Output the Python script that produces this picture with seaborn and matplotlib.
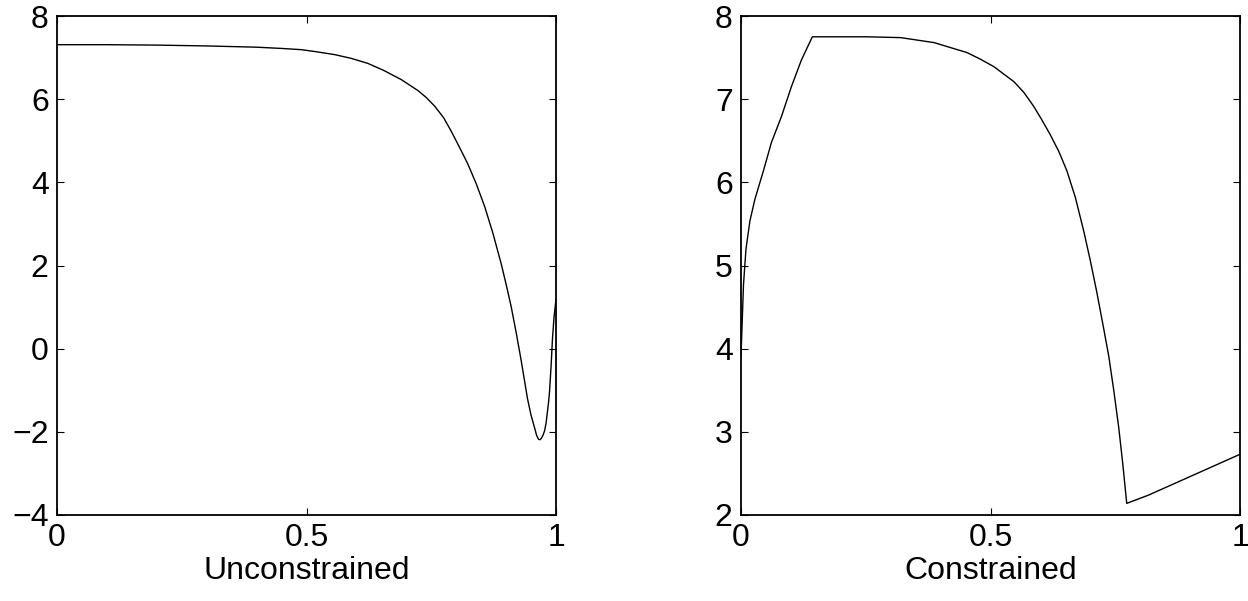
import matplotlib
matplotlib.use("Agg")
import matplotlib.pyplot as plt
import seaborn as sns

# Left panel: unconstrained solution
unc_x = [0.00, 0.10, 0.20, 0.30, 0.40, 0.45, 0.49, 0.52, 0.557, 0.59, 0.623,
         0.655, 0.69, 0.723, 0.74, 0.757, 0.775, 0.79, 0.805, 0.823, 0.84,
         0.857, 0.873, 0.89, 0.90, 0.91, 0.92, 0.93, 0.943, 0.95, 0.957,
         0.961, 0.965, 0.968, 0.971, 0.974, 0.977, 0.98, 0.982, 0.985, 0.987,
         0.990, 0.993, 0.996, 1.00]
unc_y = [7.31, 7.31, 7.30, 7.28, 7.25, 7.22, 7.19, 7.14, 7.07, 6.98, 6.86,
         6.69, 6.47, 6.21, 6.04, 5.83, 5.55, 5.23, 4.88, 4.45, 3.97,
         3.42, 2.80, 2.05, 1.55, 1.02, 0.40, -0.27, -1.21, -1.60, -1.90,
         -2.08, -2.18, -2.19, -2.15, -2.08, -1.98, -1.80, -1.60, -1.30, -1.04,
         -0.45, 0.25, 0.75, 1.19]

# Right panel: constrained solution
con_x = [0.000, 0.005, 0.010, 0.018, 0.028, 0.045, 0.061, 0.081, 0.101, 0.121,
         0.143, 0.251, 0.32, 0.387, 0.453, 0.48, 0.507, 0.547, 0.567, 0.587,
         0.603, 0.62, 0.637, 0.653, 0.67, 0.687, 0.70, 0.713, 0.725, 0.737,
         0.747, 0.757, 0.765, 0.773, 0.817, 1.00]
con_y = [3.91, 4.77, 5.20, 5.54, 5.80, 6.14, 6.48, 6.79, 7.15, 7.47,
         7.75, 7.75, 7.74, 7.68, 7.56, 7.48, 7.39, 7.21, 7.08, 6.91,
         6.75, 6.57, 6.37, 6.14, 5.82, 5.41, 5.06, 4.68, 4.30, 3.91,
         3.50, 3.05, 2.62, 2.14, 2.24, 2.73]

sns.set_theme(style="ticks")
plt.rcParams["font.family"] = ["Liberation Sans", "DejaVu Sans"]
plt.rcParams["font.size"] = 23
plt.rcParams["text.color"] = "black"
plt.rcParams["axes.labelcolor"] = "black"

fig = plt.figure(figsize=(12.48, 6.01), dpi=100)
ax1 = fig.add_axes([57 / 1248, 86 / 601, 499 / 1248, 499 / 601])
ax2 = fig.add_axes([741 / 1248, 86 / 601, 499 / 1248, 499 / 601])

panels = [
    (ax1, unc_x, unc_y, (-4, 8), [-4, -2, 0, 2, 4, 6, 8], "Unconstrained"),
    (ax2, con_x, con_y, (2, 8), [2, 3, 4, 5, 6, 7, 8], "Constrained"),
]

for ax, xs, ys, ylim, yticks, label in panels:
    sns.lineplot(x=xs, y=ys, ax=ax, color="black", linewidth=1.0)
    ax.set_xlim(0, 1)
    ax.set_ylim(*ylim)
    ax.set_xticks([0, 0.5, 1])
    ax.set_xticklabels(["0", "0.5", "1"])
    ax.set_yticks(yticks)
    ax.set_yticklabels([str(t).replace("-", "\u2212") for t in yticks])
    ax.set_xlabel(label, fontsize=23, labelpad=2, color="black")
    ax.tick_params(direction="in", length=5, width=0.8, top=True, right=True,
                   labelsize=23, pad=6, colors="black")
    for sp in ax.spines.values():
        sp.set_visible(True)
        sp.set_linewidth(1.3)
        sp.set_color("black")

fig.savefig("out.png", dpi=100, facecolor="white")
